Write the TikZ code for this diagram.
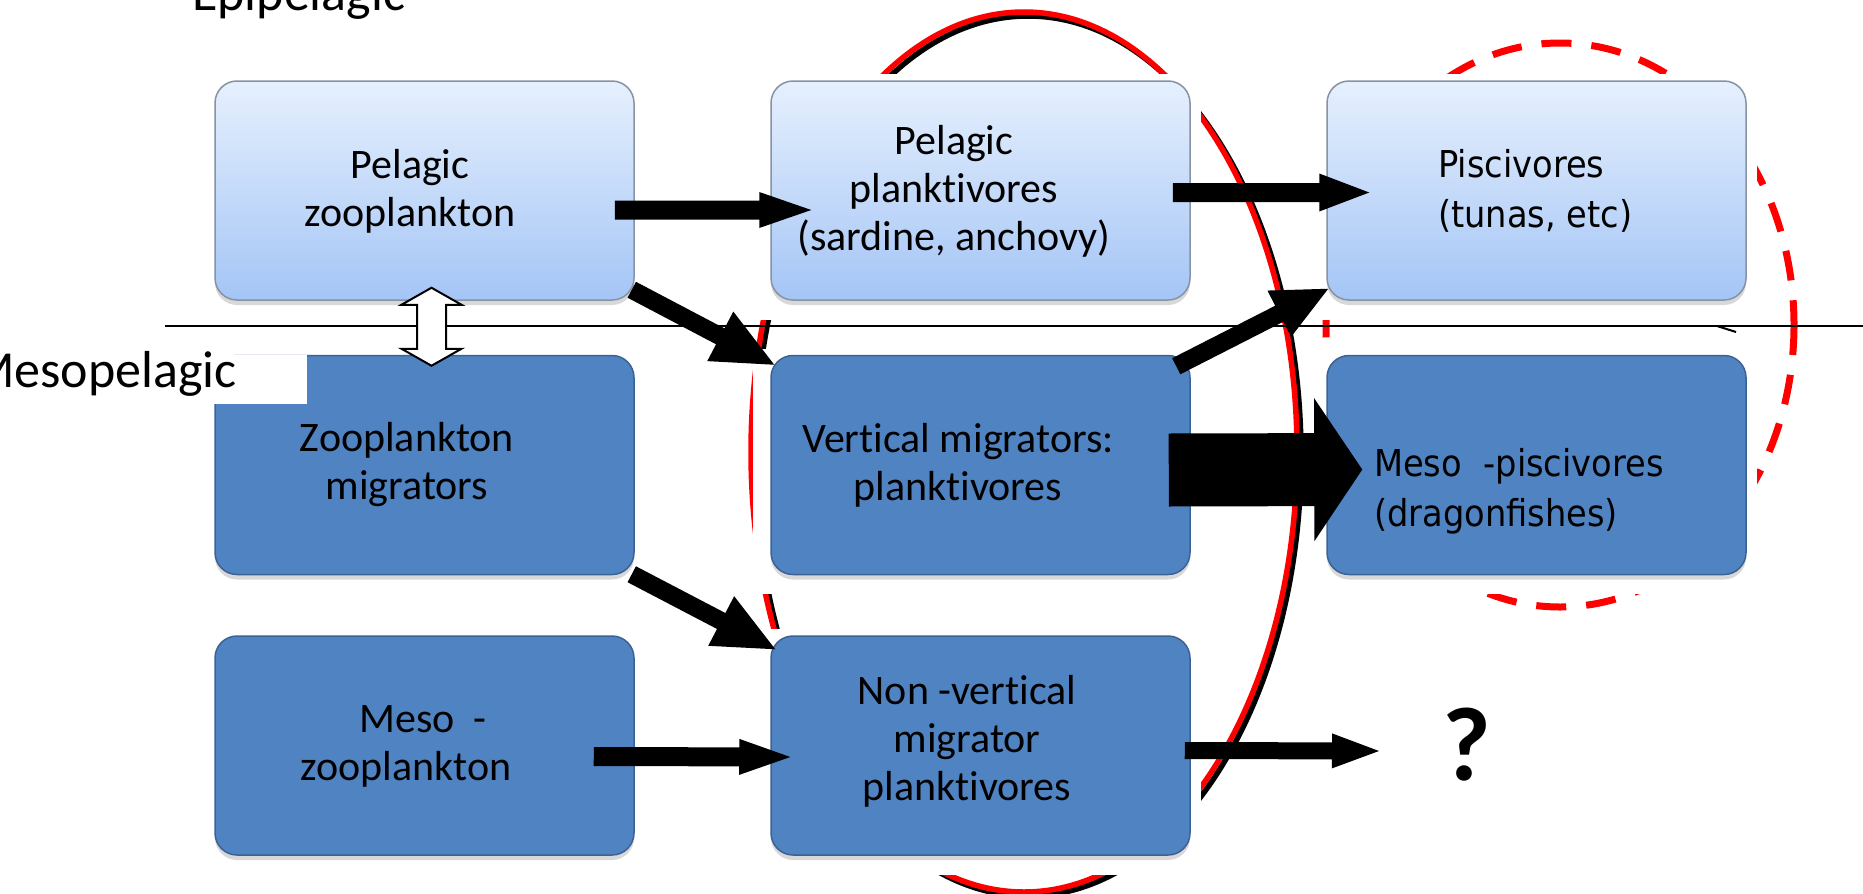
\documentclass[tikz,border=0pt]{standalone}
\usepackage{fontspec}
\setmainfont{Carlito}[Ligatures=NoCommon]
\newfontfamily\vfont[FakeStretch=0.91]{DejaVu Sans}
\usetikzlibrary{calc,shadows}
\pgfdeclarelayer{ovals}
\pgfdeclarelayer{cards}
\pgfsetlayers{ovals,cards,main}
\definecolor{lighttop}{RGB}{230,240,253}
\definecolor{lightbot}{RGB}{164,197,246}
\definecolor{lightedge}{RGB}{135,146,163}
\definecolor{darkfill}{RGB}{80,131,193}
\definecolor{darkedge}{RGB}{60,98,148}
\definecolor{ovalred}{RGB}{255,0,0}
\newcommand{\BlkArrow}[5]{%
  \path ($(#2)!#5!(#1)$) coordinate (hb);
  \fill[black] ($(#1)!#3!90:(#2)$) -- ($(hb)!#3!90:(#2)$) -- ($(hb)!#4!90:(#2)$) -- (#2)
     -- ($(hb)!#4!-90:(#2)$) -- ($(hb)!#3!-90:(#2)$) -- ($(#1)!#3!-90:(#2)$) -- cycle;}
\begin{document}
\begin{tikzpicture}[x=1pt,y=-1pt,
  basebox/.style={rounded corners=22pt, minimum width=419pt, minimum height=219pt, inner sep=0pt,
     line width=1.5pt, drop shadow={shadow xshift=0pt, shadow yshift=-5pt, opacity=0.3}},
  lightbox/.style={basebox, draw=lightedge, top color=lighttop, bottom color=lightbot},
  darkbox/.style={basebox, draw=darkedge, fill=darkfill},
  boxtext/.style={font=\fontsize{42}{48}\selectfont, align=center, anchor=base, inner sep=0pt},
  vtext/.style={font=\vfont\fontsize{37}{50}\selectfont, align=left, anchor=base west, inner sep=0pt},
  zonetext/.style={font=\fontsize{52}{56}\selectfont, inner sep=0pt},
  oval/.style={line width=5.5pt},
]
\useasboundingbox (0,0) rectangle (1863,894);
\clip (0,0) rectangle (1863,894);

% boxes
\node[lightbox] (A1) at (424.5,190.5) {};
\node[lightbox] (A2) at (980.5,190.5) {};
\node[lightbox] (A3) at (1536.5,190.5) {};
\node[darkbox] (B1) at (424.5,465) {};
\node[darkbox] (B2) at (980.5,465) {};
\node[darkbox] (B3) at (1536.5,465) {};
\node[darkbox] (C1) at (424.5,745.5) {};
\node[darkbox] (C2) at (980.5,745.5) {};

% ovals behind white cards
\begin{pgfonlayer}{ovals}
  \draw[oval, black] (1028,456) ellipse [x radius=273, y radius=440];
  \draw[oval, ovalred] (1024,452) ellipse [x radius=273, y radius=440];
  \draw[line width=7pt, ovalred, dash pattern=on 30pt off 20pt] (1560,325) ellipse [x radius=234, y radius=282];
\end{pgfonlayer}
\begin{pgfonlayer}{cards}
  \foreach \n in {A1,A2,A3,B1,B2,B3,C1,C2}
    \fill[white] ($(\n.south west)+(-17,19)$) rectangle ($(\n.north east)+(10,-6)$);
\end{pgfonlayer}

% divider line
\coordinate (divL) at (165,326);
\coordinate (divR) at (1863,326);
\draw[line width=2.5pt] (divL) -- (divR);
\coordinate (hp) at (1717,326);
\draw[line width=2pt] (hp) -- ++(19,6);

% texts (anchor = baseline of the last line)
\node[boxtext] (A1t) at (410,226) {Pelagic\\zooplankton};
\node[boxtext] (A2t) at (954,250) {Pelagic\\planktivores\\(sardine, anchovy)};
\node[vtext] (A3t) at (1438,227) {Piscivores\\(tunas, etc)};
\node[boxtext] (B1t) at (407,499) {Zooplankton\\migrators};
\node[boxtext] (B2t) at (958,500) {Vertical migrators:\\planktivores};
\node[vtext] (B3t) at (1374,526) {Meso~~-piscivores\\(dragonfishes)};
\node[boxtext] (C1t) at (406,780) {\hspace*{34pt}Meso~~-\\zooplankton};
\node[boxtext] (C2t) at (967,800) {Non -vertical\\migrator\\planktivores};
\node[font=\fontsize{105}{105}\selectfont\bfseries, anchor=base, inner sep=0pt] (q) at (1467,780) {?};

% arrows
\BlkArrow{$(A1.east)+(-20,19.5)$}{$(A2.west)+(41,19.5)$}{9.5pt}{18pt}{52pt}
\BlkArrow{$(A2.east)+(-18,2)$}{$(A3.west)+(43,2)$}{9.5pt}{19pt}{50pt}
\BlkArrow{$(A1.south east)+(-3,-11)$}{$(B2.north west)+(4,10)$}{9pt}{28pt}{61pt}
\BlkArrow{$(B1.south east)+(-3,-1)$}{$(C2.north west)+(5,14)$}{9pt}{28pt}{61pt}
\BlkArrow{$(C1.east)+(-41,11)$}{$(C2.west)+(20,11.5)$}{9.5pt}{18pt}{51pt}
\BlkArrow{$(B2.north east)+(-14.5,11.5)$}{$(A3.south west)+(2,-12)$}{9pt}{26pt}{55pt}
\BlkArrow{$(B2.east)+(-22,5)$}{$(B3.west)+(36,4.5)$}{36.5pt}{71.5pt}{48pt}
\BlkArrow{$(C2.east)+(-6,5)$}{$(q.base)+(-88,-29)$}{8.5pt}{17.5pt}{47pt}

% double arrow between zooplankton boxes
\coordinate (dT) at ($(A1.south)+(7,-13)$);
\coordinate (dB) at ($(B1.north)+(7,11)$);
\draw[fill=white, line width=2pt, line join=miter] (dT) -- ($(dT)+(30,17)$) -- ($(dT)+(14.5,17)$)
  -- ($(dB)+(14.5,-17)$) -- ($(dB)+(30,-17)$) -- (dB) -- ($(dB)+(-30,-17)$) -- ($(dB)+(-14.5,-17)$)
  -- ($(dT)+(-14.5,17)$) -- ($(dT)+(-30,17)$) -- cycle;

% zone labels
\node[zonetext, anchor=base west] (epi) at (192,10) {Epipelagic};
\fill[white] (0,355) rectangle (307,404);
\node[zonetext, anchor=base east] (meso) at (237,387) {Mesopelagic};
\end{tikzpicture}
\end{document}
